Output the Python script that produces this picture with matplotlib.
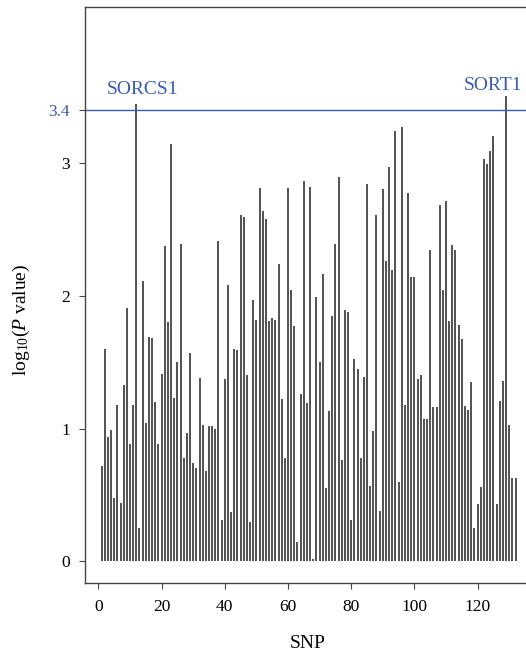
import numpy as np
import matplotlib.pyplot as plt

plt.rcParams['font.family'] = ['Liberation Serif', 'DejaVu Serif']
plt.rcParams['mathtext.fontset'] = 'custom'
plt.rcParams['mathtext.rm'] = 'Liberation Serif'
plt.rcParams['mathtext.it'] = 'Liberation Serif:italic'

# -log10 P values per SNP
pvals = [
    0.72, 1.60, 0.94, 0.99, 0.48, 1.18, 0.44, 1.33, 1.91, 0.88,
    1.18, 3.44, 0.25, 2.11, 1.04, 1.69, 1.68, 1.20, 0.88, 1.41,
    2.37, 1.80, 3.14, 1.23, 1.50, 2.39, 0.78, 0.97, 1.57, 0.74,
    0.70, 1.38, 1.03, 0.68, 1.02, 1.02, 1.00, 2.41, 0.31, 1.37,
    2.08, 0.37, 1.60, 1.59, 2.61, 2.59, 1.40, 0.30, 1.97, 1.82,
    2.81, 2.64, 2.58, 1.81, 1.83, 1.82, 2.24, 1.22, 0.78, 2.81,
    2.04, 1.77, 0.15, 1.26, 2.86, 1.19, 2.82, 0.02, 1.99, 1.50,
    2.16, 0.55, 1.13, 1.85, 2.39, 2.89, 0.76, 1.89, 1.88, 0.31,
    1.52, 1.45, 0.78, 1.39, 2.84, 0.57, 0.98, 2.61, 0.38, 2.80,
    2.26, 2.97, 2.19, 3.24, 0.60, 3.27, 1.18, 2.77, 2.14, 2.14,
    1.37, 1.40, 1.07, 1.07, 2.34, 1.16, 1.16, 2.68, 2.04, 2.71,
    1.81, 2.38, 2.34, 1.78, 1.67, 1.17, 1.14, 1.35, 0.25, 0.43,
    0.56, 3.03, 2.99, 3.09, 3.20, 0.43, 1.21, 1.36, 3.50, 1.03,
    0.63, 0.63,
]
snp = np.arange(1, len(pvals) + 1)

threshold = 3.4
genes = ['SORCS1', 'SORT1']
gene_x = [2.7, 115.6]
gene_y = [3.515, 3.55]
blue = '#3a5bb5'

fig = plt.figure(figsize=(5.26, 6.54), dpi=100)
# right edge of the box falls outside the image, as in the original
ax = fig.add_axes([0.1616, 0.109, 0.850, 0.880])

ax.vlines(snp, 0, pvals, color='#222222', linewidth=1.1)
ax.axhline(threshold, color=blue, linewidth=1.0)
for g, gx, gy in zip(genes, gene_x, gene_y):
    ax.text(gx, gy, g, color=blue, fontsize=14, ha='left', va='baseline')

ax.set_xlim(-4.24, 137.24)
ax.set_ylim(-0.16, 4.17)
ax.set_xticks([0, 20, 40, 60, 80, 100, 120])
ax.set_yticks([0, 1, 2, 3, threshold])
ax.set_yticklabels(['0', '1', '2', '3', '3.4'])
ax.get_yticklabels()[-1].set_color(blue)

for s in ax.spines.values():
    s.set_color('#444444')
    s.set_linewidth(1.0)
ax.tick_params(direction='out', length=4, width=0.8, color='#444444',
               labelsize=12.5)
ax.tick_params(axis='x', pad=8)
ax.tick_params(axis='y', pad=7)

ax.set_xlabel('SNP', fontsize=14)
ax.xaxis.set_label_coords(0.497, -0.091)
ax.set_ylabel(r'$\mathrm{log}_{10}(P\mathrm{\ value})$', fontsize=14)
ax.yaxis.set_label_coords(-0.118, 0.456)

fig.savefig('out.png', dpi=100)
